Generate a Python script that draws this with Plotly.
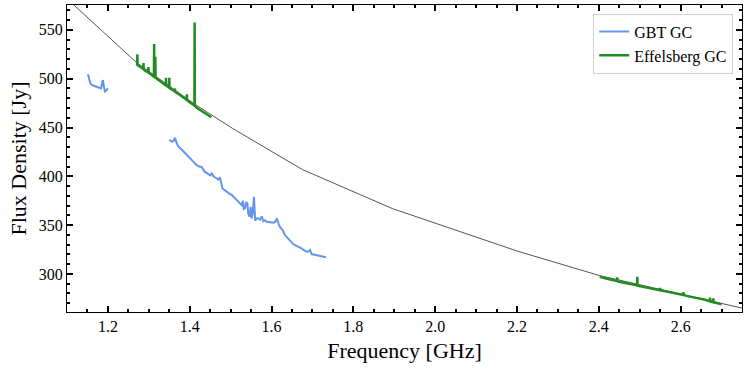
import plotly.graph_objects as go

# Model (power-law-like) curve
model_freq = [1.10, 1.27, 1.41, 1.505, 1.675, 1.895, 2.20, 2.40, 2.75]
model_flux = [582.0, 516.5, 474.5, 449.0, 407.0, 367.0, 323.5, 298.5, 265.0]

# GBT GC spectrum (two bands)
gbt_freq = [1.150, 1.152, 1.154, 1.158, 1.164, 1.172, 1.178, 1.183, 1.186, 1.188, 1.190, 1.193, 1.197, 1.200,
            None,
            1.350, 1.356, 1.360, 1.364, 1.368, 1.372, 1.380, 1.386, 1.393, 1.400, 1.405, 1.411, 1.417,
            1.423, 1.429, 1.433, 1.437, 1.443, 1.450, 1.454, 1.458, 1.462, 1.466, 1.470, 1.474, 1.477,
            1.480, 1.485, 1.490, 1.496, 1.503, 1.507, 1.511, 1.515, 1.519, 1.523, 1.527, 1.530, 1.532,
            1.535, 1.538, 1.541, 1.543, 1.546, 1.549, 1.551, 1.554, 1.557, 1.560, 1.564, 1.568, 1.572,
            1.576, 1.580, 1.584, 1.588, 1.594, 1.600, 1.605, 1.609, 1.613, 1.616, 1.619, 1.623, 1.627,
            1.633, 1.637, 1.641, 1.647, 1.653, 1.660, 1.666, 1.672, 1.678, 1.682, 1.686, 1.690, 1.694,
            1.698, 1.702, 1.706, 1.712, 1.719, 1.726, 1.733]
gbt_flux = [503.0, 504.0, 500.0, 494.5, 493.0, 491.5, 490.5, 490.0, 496.0, 498.5, 492.0, 487.0, 488.5, 490.0,
            None,
            437.5, 435.5, 436.0, 439.5, 434.0, 430.8, 427.4, 425.0, 421.6, 419.0, 416.5, 414.0, 411.4,
            410.0, 409.6, 407.0, 404.5, 403.0, 401.0, 403.0, 400.0, 398.8, 397.5, 396.8, 398.8, 393.0,
            387.6, 386.0, 384.1, 382.5, 380.7, 379.0, 377.3, 376.0, 373.9, 372.0, 370.5, 375.0, 366.5,
            367.1, 373.0, 372.2, 362.0, 358.6, 368.7, 356.9, 362.0, 379.0, 354.5, 357.0, 356.9, 355.5,
            359.0, 354.0, 355.0, 353.4, 353.0, 352.4, 352.5, 353.5, 356.9, 353.0, 349.0, 347.0, 345.0,
            339.8, 338.0, 335.4, 333.0, 330.6, 329.0, 327.9, 326.5, 324.5, 323.5, 322.8, 323.0, 324.5,
            320.4, 320.0, 319.4, 318.8, 318.4, 317.5, 317.0]

# Effelsberg GC spectrum (two bands, narrow RFI spikes)
eff_freq = [1.270, 1.2715, 1.272, 1.2725, 1.276, 1.280, 1.2865, 1.287, 1.2875, 1.292, 1.297, 1.2985, 1.299,
            1.2995, 1.305, 1.3125, 1.313, 1.3135, 1.3155, 1.316, 1.3165, 1.320, 1.325, 1.330, 1.3415,
            1.342, 1.3425, 1.346, 1.3495, 1.350, 1.3505, 1.356, 1.3635, 1.364, 1.3645, 1.370, 1.378,
            1.385, 1.3925, 1.393, 1.3935, 1.400, 1.405, 1.4115, 1.412, 1.4125, 1.418, 1.425, 1.432,
            1.440, 1.446, 1.453,
            None,
            2.402, 2.410, 2.420, 2.430, 2.4445, 2.445, 2.4455, 2.455, 2.465, 2.475, 2.485, 2.4935,
            2.494, 2.4945, 2.505, 2.515, 2.525, 2.535, 2.5495, 2.550, 2.5505, 2.560, 2.575, 2.590,
            2.6065, 2.607, 2.6075, 2.620, 2.635, 2.650, 2.660, 2.6715, 2.672, 2.6725, 2.6795, 2.680,
            2.6805, 2.688, 2.695, 2.700]
eff_flux = [515.0, 514.5, 525.0, 514.0, 513.0, 511.5, 510.0, 516.0, 509.5, 508.0, 507.0, 506.5, 512.0,
            506.0, 504.5, 502.0, 535.5, 502.0, 501.0, 522.5, 501.0, 500.0, 498.5, 497.0, 493.0, 501.0,
            493.0, 492.0, 491.0, 501.0, 490.5, 489.0, 487.0, 490.0, 486.5, 485.0, 482.5, 480.5, 478.5,
            484.0, 478.0, 476.0, 474.5, 472.5, 557.5, 472.0, 470.0, 468.0, 466.0, 464.0, 462.5, 460.5,
            None,
            297.0, 296.0, 295.0, 294.0, 292.8, 296.5, 292.5, 291.5, 290.5, 289.8, 289.0, 288.3, 297.0,
            288.0, 287.0, 286.0, 285.2, 284.5, 283.3, 285.8, 283.2, 282.5, 281.0, 279.8, 278.4, 281.5,
            278.3, 277.0, 275.8, 274.5, 273.5, 272.0, 275.8, 271.8, 271.0, 275.0, 270.8, 270.2, 269.5,
            268.8]

x_ticks = [1.2, 1.4, 1.6, 1.8, 2.0, 2.2, 2.4, 2.6]
y_ticks = [300, 350, 400, 450, 500, 550]

FONT = "Liberation Serif"

fig = go.Figure()
fig.add_trace(go.Scatter(x=model_freq, y=model_flux, mode="lines",
                         line=dict(color="#555555", width=1), showlegend=False,
                         hoverinfo="skip"))
fig.add_trace(go.Scatter(x=gbt_freq, y=gbt_flux, mode="lines", name="GBT GC",
                         line=dict(color="#6495ED", width=2), connectgaps=False,
                         legendgroup="g1"))
fig.add_trace(go.Scatter(x=eff_freq, y=eff_flux, mode="lines", name="Effelsberg GC",
                         line=dict(color="#228B22", width=2.5), connectgaps=False,
                         legendgroup="g2"))

fig.update_xaxes(
    range=[1.1, 2.75], tickmode="linear", tick0=x_ticks[0],
    dtick=round(x_ticks[1] - x_ticks[0], 3), tickformat=".1f",
    showline=True, linecolor="black", mirror="allticks", ticks="inside",
    ticklen=6, tickwidth=2, tickcolor="black", showgrid=False, zeroline=False,
    tickfont=dict(family=FONT, size=16, color="black"),
    title=dict(text="Frequency [GHz]", font=dict(family=FONT, size=22, color="black"), standoff=8),
    minor=dict(ticks="inside", dtick=0.05, ticklen=3, tickwidth=1.5, tickcolor="black"),
)
fig.update_yaxes(
    range=[261, 575.5], tickmode="linear", tick0=y_ticks[0], dtick=y_ticks[1] - y_ticks[0],
    showline=True, linecolor="black", mirror="allticks", ticks="inside",
    ticklen=6, tickwidth=2, tickcolor="black", showgrid=False, zeroline=False,
    tickfont=dict(family=FONT, size=16, color="black"),
    title=dict(text="Flux Density [Jy]", font=dict(family=FONT, size=22, color="black"), standoff=6),
    minor=dict(ticks="inside", dtick=10, ticklen=3, tickwidth=1.5, tickcolor="black"),
)

fig.update_layout(
    width=747, height=370,
    margin=dict(l=67, r=5, t=5, b=58),
    paper_bgcolor="white", plot_bgcolor="white",
    font=dict(family=FONT, color="black"),
    legend=dict(x=0.987, y=0.972, xanchor="right", yanchor="top",
                bgcolor="white", bordercolor="#d0d0d0", borderwidth=1,
                font=dict(family=FONT, size=16, color="black"),
                tracegroupgap=0, itemwidth=30),
)

fig.write_html("out.html", post_script="document.body.style.margin='0';",
               config={"displayModeBar": False})
